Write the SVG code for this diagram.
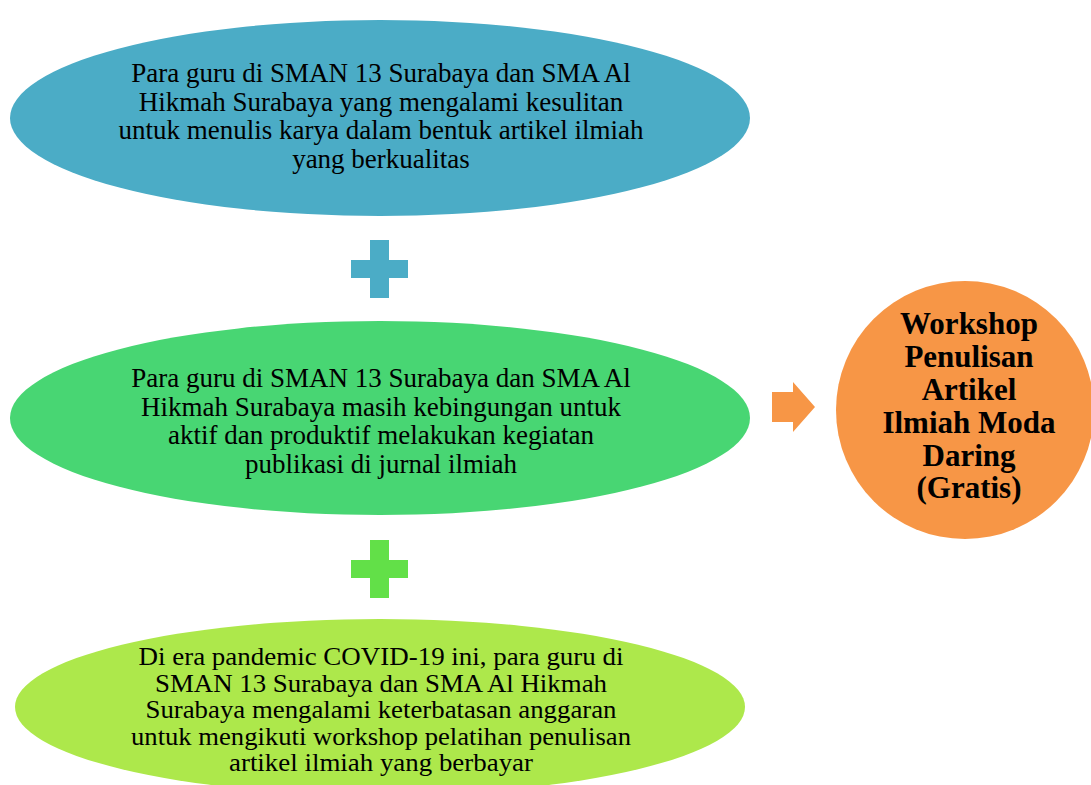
<svg xmlns="http://www.w3.org/2000/svg" width="1091" height="785" viewBox="0 0 1091 785">
<style>
.t{font-family:"Liberation Serif","Times New Roman",serif;font-size:27px;fill:#000;text-anchor:middle}
.s{font-family:"Liberation Serif","Times New Roman",serif;font-size:24.5px;fill:#000;text-anchor:middle}
.b{font-family:"Liberation Serif","Times New Roman",serif;font-size:31px;font-weight:bold;fill:#000;text-anchor:middle}
</style>
<rect width="1091" height="785" fill="#fff"/>
<g id="node-top">
<ellipse cx="380" cy="118" rx="370" ry="98" fill="#4BACC6"/>
<text class="t" x="381" y="82">Para guru di SMAN 13 Surabaya dan SMA Al</text>
<text class="t" x="381" y="110.5">Hikmah Surabaya yang mengalami kesulitan</text>
<text class="t" x="381" y="139">untuk menulis karya dalam bentuk artikel ilmiah</text>
<text class="t" x="381" y="167.5">yang berkualitas</text>
</g>
<g id="plus-1">
<path d="M370 240H389V260H408V278H389V298H370V278H351V260H370Z" fill="#4BACC6"/>
</g>
<g id="node-middle">
<ellipse cx="380" cy="418" rx="370" ry="97" fill="#48D673"/>
<text class="t" x="381" y="387">Para guru di SMAN 13 Surabaya dan SMA Al</text>
<text class="t" x="381" y="415.5">Hikmah Surabaya masih kebingungan untuk</text>
<text class="t" x="381" y="444">aktif dan produktif melakukan kegiatan</text>
<text class="t" x="381" y="472.5">publikasi di jurnal ilmiah</text>
</g>
<g id="plus-2">
<path d="M370 540H389V560H408V578H389V598H370V578H351V560H370Z" fill="#62E048"/>
</g>
<g id="node-bottom">
<ellipse cx="380" cy="707" rx="365" ry="88" fill="#ADE84B"/>
<text class="s" x="381" y="665" textLength="485" lengthAdjust="spacingAndGlyphs">Di era pandemic COVID-19 ini, para guru di</text>
<text class="s" x="381" y="691.5" textLength="452" lengthAdjust="spacingAndGlyphs">SMAN 13 Surabaya dan SMA Al Hikmah</text>
<text class="s" x="381" y="718" textLength="471" lengthAdjust="spacingAndGlyphs">Surabaya mengalami keterbatasan anggaran</text>
<text class="s" x="381" y="744.5" textLength="500" lengthAdjust="spacingAndGlyphs">untuk mengikuti workshop pelatihan penulisan</text>
<text class="s" x="381" y="771" textLength="304" lengthAdjust="spacingAndGlyphs">artikel ilmiah yang berbayar</text>
</g>
<g id="connectors">
<path d="M772 392H793V382L815 407L793 432V422H772Z" fill="#F79646"/>
</g>
<g id="node-result">
<circle cx="965" cy="410" r="129" fill="#F79646"/>
<text class="b" x="969" y="334">Workshop</text>
<text class="b" x="969" y="367">Penulisan</text>
<text class="b" x="969" y="400">Artikel</text>
<text class="b" x="969" y="433">Ilmiah Moda</text>
<text class="b" x="969" y="466">Daring</text>
<text class="b" x="969" y="498">(Gratis)</text>
</g>
</svg>
